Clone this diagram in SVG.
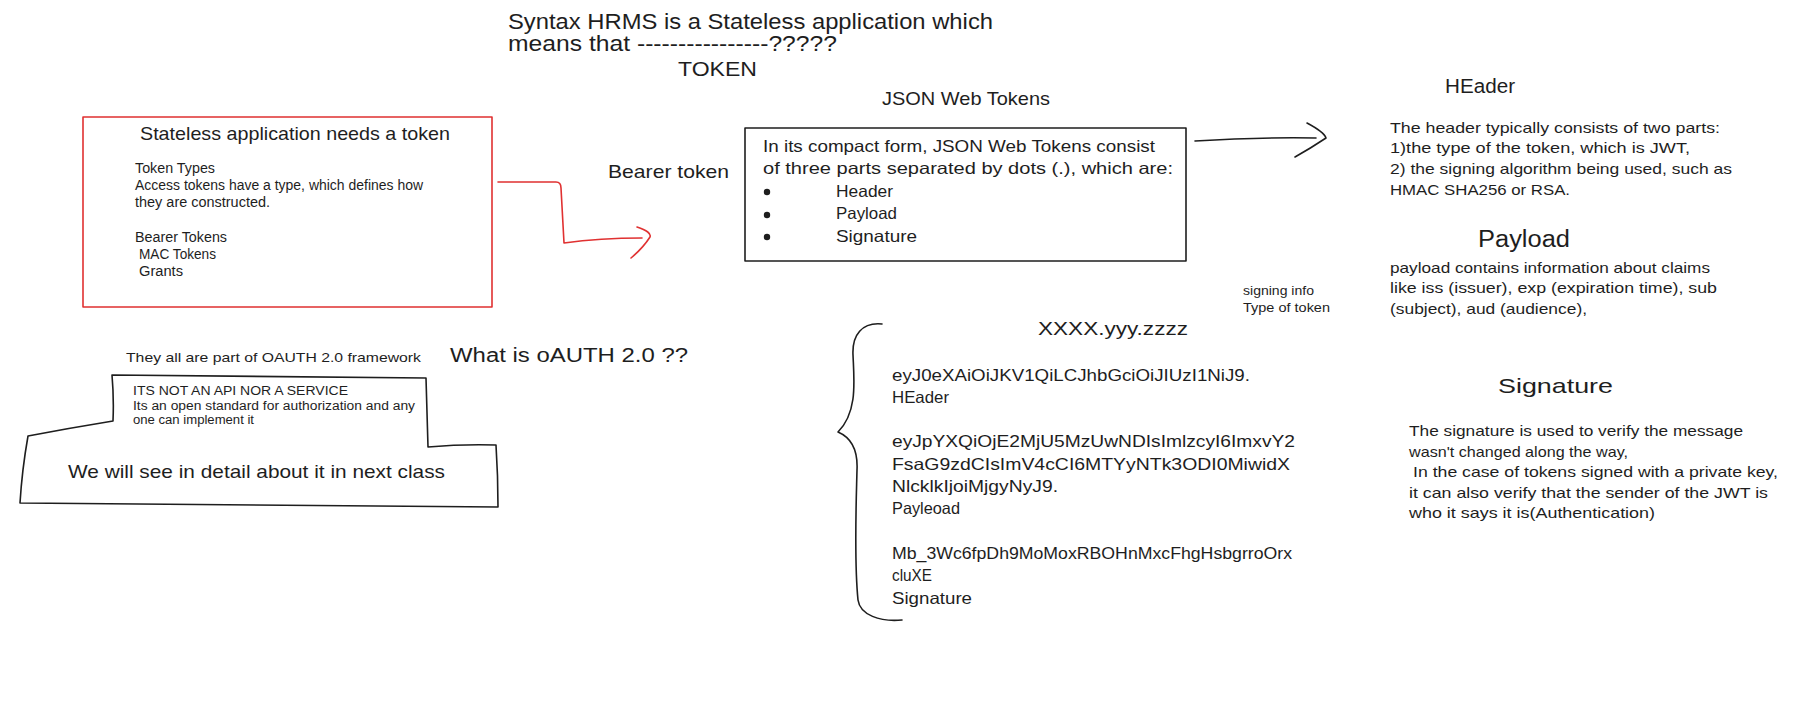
<svg xmlns="http://www.w3.org/2000/svg" width="1820" height="709" viewBox="0 0 1820 709">
<style>
.t{font-family:"Liberation Sans",Arial,sans-serif;fill:#1e1e1e}
.red{fill:none;stroke:#e03131;stroke-width:1.6;stroke-linecap:round;stroke-linejoin:round}
.blk{fill:none;stroke:#1e1e1e;stroke-width:1.6;stroke-linecap:round;stroke-linejoin:round}
</style>
<rect width="1820" height="709" fill="#ffffff"/>

<g id="title">
<text class="t" x="508" y="29" font-size="22" textLength="485" lengthAdjust="spacingAndGlyphs">Syntax HRMS is a Stateless application which</text>
<text class="t" x="508" y="51" font-size="22" textLength="329" lengthAdjust="spacingAndGlyphs">means that ----------------?????</text>
<text class="t" x="678" y="76" font-size="21" textLength="79" lengthAdjust="spacingAndGlyphs">TOKEN</text>
</g>

<g id="stateless-box">
<rect class="red" x="83" y="117" width="409" height="190"/>
<text class="t" x="140" y="140" font-size="19" textLength="310" lengthAdjust="spacingAndGlyphs">Stateless application needs a token</text>
<text class="t" x="135" y="173" font-size="14" textLength="80" lengthAdjust="spacingAndGlyphs">Token Types</text>
<text class="t" x="135" y="190" font-size="14" textLength="288" lengthAdjust="spacingAndGlyphs">Access tokens have a type, which defines how</text>
<text class="t" x="135" y="207" font-size="14" textLength="135" lengthAdjust="spacingAndGlyphs">they are constructed.</text>
<text class="t" x="135" y="242" font-size="14" textLength="92" lengthAdjust="spacingAndGlyphs">Bearer Tokens</text>
<text class="t" x="139" y="259" font-size="14" textLength="77" lengthAdjust="spacingAndGlyphs">MAC Tokens</text>
<text class="t" x="139" y="276" font-size="14" textLength="44" lengthAdjust="spacingAndGlyphs">Grants</text>
</g>

<g id="bearer-token">
<text class="t" x="608" y="178" font-size="19" textLength="121" lengthAdjust="spacingAndGlyphs">Bearer token</text>
</g>

<g id="jwt-title">
<text class="t" x="882" y="105" font-size="19" textLength="168" lengthAdjust="spacingAndGlyphs">JSON Web Tokens</text>
</g>

<g id="jwt-box">
<rect class="blk" x="745" y="128" width="441" height="133"/>
<text class="t" x="763" y="152" font-size="16.5" textLength="392" lengthAdjust="spacingAndGlyphs">In its compact form, JSON Web Tokens consist</text>
<text class="t" x="763" y="174" font-size="16.5" textLength="410" lengthAdjust="spacingAndGlyphs">of three parts separated by dots (.), which are:</text>
<circle cx="767" cy="192" r="3.2" fill="#1e1e1e"/>
<circle cx="767" cy="215" r="3.2" fill="#1e1e1e"/>
<circle cx="767" cy="237" r="3.2" fill="#1e1e1e"/>
<text class="t" x="836" y="197" font-size="16.5" textLength="57" lengthAdjust="spacingAndGlyphs">Header</text>
<text class="t" x="836" y="219" font-size="16.5" textLength="61" lengthAdjust="spacingAndGlyphs">Payload</text>
<text class="t" x="836" y="242" font-size="16.5" textLength="81" lengthAdjust="spacingAndGlyphs">Signature</text>
</g>

<g id="header-section">
<text class="t" x="1445" y="93" font-size="20" textLength="70" lengthAdjust="spacingAndGlyphs">HEader</text>
<text class="t" x="1390" y="133" font-size="15" textLength="330" lengthAdjust="spacingAndGlyphs">The header typically consists of two parts:</text>
<text class="t" x="1390" y="153" font-size="15" textLength="300" lengthAdjust="spacingAndGlyphs">1)the type of the token, which is JWT,</text>
<text class="t" x="1390" y="174" font-size="15" textLength="342" lengthAdjust="spacingAndGlyphs">2) the signing algorithm being used, such as</text>
<text class="t" x="1390" y="195" font-size="15" textLength="180" lengthAdjust="spacingAndGlyphs">HMAC SHA256 or RSA.</text>
</g>

<g id="payload-section">
<text class="t" x="1478" y="247" font-size="23" textLength="92" lengthAdjust="spacingAndGlyphs">Payload</text>
<text class="t" x="1390" y="273" font-size="15" textLength="320" lengthAdjust="spacingAndGlyphs">payload contains information about claims</text>
<text class="t" x="1390" y="293" font-size="15" textLength="327" lengthAdjust="spacingAndGlyphs">like iss (issuer), exp (expiration time), sub</text>
<text class="t" x="1390" y="314" font-size="15" textLength="197" lengthAdjust="spacingAndGlyphs">(subject), aud (audience),</text>
</g>

<g id="signing-info">
<text class="t" x="1243" y="295" font-size="13" textLength="71" lengthAdjust="spacingAndGlyphs">signing info</text>
<text class="t" x="1243" y="312" font-size="13" textLength="87" lengthAdjust="spacingAndGlyphs">Type of token</text>
</g>

<g id="signature-section">
<text class="t" x="1498" y="393" font-size="21" textLength="115" lengthAdjust="spacingAndGlyphs">Signature</text>
<text class="t" x="1409" y="436" font-size="15" textLength="334" lengthAdjust="spacingAndGlyphs">The signature is used to verify the message</text>
<text class="t" x="1409" y="456.5" font-size="15" textLength="219" lengthAdjust="spacingAndGlyphs">wasn't changed along the way,</text>
<text class="t" x="1413" y="477" font-size="15" textLength="365" lengthAdjust="spacingAndGlyphs">In the case of tokens signed with a private key,</text>
<text class="t" x="1409" y="497.5" font-size="15" textLength="359" lengthAdjust="spacingAndGlyphs">it can also verify that the sender of the JWT is</text>
<text class="t" x="1409" y="518" font-size="15" textLength="246" lengthAdjust="spacingAndGlyphs">who it says it is(Authentication)</text>
</g>

<g id="jwt-example">
<path class="blk" d="M882,324 C862,322 852,335 853,355 C854,380 858,412 838,432 C852,438 858,450 857,470 C856,510 854,560 858,600 C860,615 880,622 902,620"/>
<text class="t" x="1038" y="335" font-size="18" textLength="150" lengthAdjust="spacingAndGlyphs">XXXX.yyy.zzzz</text>
<text class="t" x="892" y="380.5" font-size="16.5" textLength="358" lengthAdjust="spacingAndGlyphs">eyJ0eXAiOiJKV1QiLCJhbGciOiJIUzI1NiJ9.</text>
<text class="t" x="892" y="402.8" font-size="16.5" textLength="57" lengthAdjust="spacingAndGlyphs">HEader</text>
<text class="t" x="892" y="447.4" font-size="16.5" textLength="403" lengthAdjust="spacingAndGlyphs">eyJpYXQiOjE2MjU5MzUwNDIsImlzcyI6ImxvY2</text>
<text class="t" x="892" y="469.7" font-size="16.5" textLength="398" lengthAdjust="spacingAndGlyphs">FsaG9zdCIsImV4cCI6MTYyNTk3ODI0MiwidX</text>
<text class="t" x="892" y="492" font-size="16.5" textLength="166" lengthAdjust="spacingAndGlyphs">NlcklkIjoiMjgyNyJ9.</text>
<text class="t" x="892" y="514.3" font-size="16.5" textLength="68" lengthAdjust="spacingAndGlyphs">Payleoad</text>
<text class="t" x="892" y="559" font-size="16.5" textLength="400" lengthAdjust="spacingAndGlyphs">Mb_3Wc6fpDh9MoMoxRBOHnMxcFhgHsbgrroOrx</text>
<text class="t" x="892" y="581.3" font-size="16.5" textLength="40" lengthAdjust="spacingAndGlyphs">cluXE</text>
<text class="t" x="892" y="603.6" font-size="16.5" textLength="80" lengthAdjust="spacingAndGlyphs">Signature</text>
</g>

<g id="oauth-framework">
<text class="t" x="126" y="362" font-size="13" textLength="295" lengthAdjust="spacingAndGlyphs">They all are part of OAUTH 2.0 framework</text>
</g>

<g id="what-is-oauth">
<text class="t" x="450" y="362" font-size="20" textLength="238" lengthAdjust="spacingAndGlyphs">What is oAUTH 2.0 ??</text>
</g>

<g id="oauth-box">
<path class="blk" d="M112,375 Q270,377 426,378 Q427,412 428,447 Q462,444 496,445 Q498,476 498,507 Q260,505 20,503 Q22,470 28,436 Q70,428 113,421 Q114,398 112,375 Z"/>
<text class="t" x="133" y="395" font-size="12.5" textLength="215" lengthAdjust="spacingAndGlyphs">ITS NOT AN API NOR A SERVICE</text>
<text class="t" x="133" y="409.5" font-size="12.5" textLength="282" lengthAdjust="spacingAndGlyphs">Its an open standard for authorization and any</text>
<text class="t" x="133" y="424" font-size="12.5" textLength="121" lengthAdjust="spacingAndGlyphs">one can implement it</text>
<text class="t" x="68" y="478" font-size="19" textLength="377" lengthAdjust="spacingAndGlyphs">We will see in detail about it in next class</text>
</g>

<g id="connectors">
<path class="red" d="M498,182 L556,182 Q561,182 561,188 L564,243 Q600,238 642,238"/>
<path class="red" d="M637,227 Q652,232 650,237 Q643,248 631,258"/>
<path class="blk" d="M1195,141 Q1260,137 1316,138"/>
<path class="blk" d="M1307,123 Q1324,132 1326,138 Q1311,148 1295,157"/>
</g>
</svg>
